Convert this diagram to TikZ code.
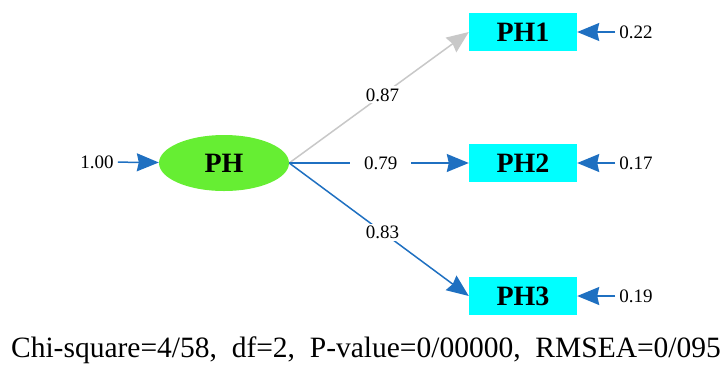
\documentclass[tikz,border=0pt]{standalone}
\usepackage{fontspec}
\setmainfont{Liberation Serif}
\usetikzlibrary{arrows.meta,shapes.geometric}
\definecolor{pathblue}{RGB}{31,112,193}
\definecolor{pathgray}{RGB}{200,200,200}
\definecolor{latentgreen}{RGB}{102,238,51}
\definecolor{obscyan}{RGB}{0,255,255}
\tikzset{
  latent/.style={ellipse, fill=latentgreen, minimum width=130pt, minimum height=56pt,
    inner sep=0pt, font=\fontsize{28}{30}\selectfont\bfseries},
  observed/.style={rectangle, fill=obscyan, minimum width=108pt, minimum height=38pt,
    inner sep=0pt, font=\fontsize{28}{30}\selectfont\bfseries},
  val/.style={inner sep=4pt, font=\fontsize{19}{21}\selectfont},
  coef/.style={fill=white, inner ysep=2pt, inner xsep=4pt, font=\fontsize{19}{21}\selectfont},
  loading/.style={draw=pathblue, fill=pathblue, line width=1.5pt,
    -{Stealth[length=22pt,width=18pt,inset=2pt]}},
  weakloading/.style={loading, draw=pathgray, fill=pathgray},
}
\begin{document}
\begin{tikzpicture}[x=1pt,y=-1pt]
  \useasboundingbox (0,0) rectangle (722,365);

  % latent variable and its indicators
  \node[latent]   (PH)  at (224,163) {PH};
  \node[observed] (PH1) at (523,32)  {PH1};
  \node[observed] (PH2) at (523,163) {PH2};
  \node[observed] (PH3) at (523,296) {PH3};

  % variance of the latent variable
  \node[val] (v0) at (97,162) {1.00};
  \draw[loading] (v0) -- (PH);

  % error variances
  \node[val] (e1) at (636,32)  {0.22};
  \node[val] (e2) at (636,163) {0.17};
  \node[val] (e3) at (636,296) {0.19};
  \draw[loading] (e1) -- (PH1);
  \draw[loading] (e2) -- (PH2);
  \draw[loading] (e3) -- (PH3);

  % factor loadings
  \draw[weakloading] (PH.east) -- (PH1.west)
    node[coef, pos=0.52] {0.87};
  \draw[loading] (PH.east) -- (PH2.west)
    node[coef, pos=0.51, inner xsep=14pt] {0.79};
  \draw[loading] (PH.east) -- (PH3.west)
    node[coef, pos=0.52, inner xsep=6pt] {0.83};

  % fit statistics
  \node[font=\fontsize{29.5}{32}\selectfont] (fit) at (366,350)
    {Chi-square=4/58,\enspace df=2,\enspace P-value=0/00000,\enspace RMSEA=0/095};
\end{tikzpicture}
\end{document}
